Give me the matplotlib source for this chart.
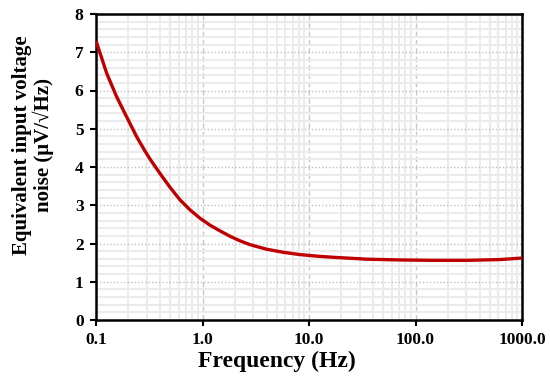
import matplotlib
matplotlib.use("Agg")
import matplotlib.pyplot as plt
from matplotlib.ticker import MultipleLocator, LogLocator, NullFormatter

freq = [0.1, 0.126, 0.156, 0.194, 0.241, 0.288, 0.321, 0.399, 0.495, 0.615, 0.763,
        0.948, 1.175, 1.46, 1.81, 2.25, 2.79, 4.0, 5.74, 8.23, 11.8, 16.8, 34.8,
        71.5, 146, 302, 621, 1000]
noise = [7.3, 6.45, 5.84, 5.31, 4.79, 4.42, 4.21, 3.83, 3.47, 3.14, 2.88,
         2.66, 2.48, 2.33, 2.19, 2.07, 1.97, 1.85, 1.77, 1.71, 1.67, 1.64, 1.59,
         1.57, 1.56, 1.56, 1.58, 1.62]
xticks = [0.1, 1, 10, 100, 1000]
xticklabels = ["0.1", "1.0", "10.0", "100.0", "1000.0"]
yticks = [0, 1, 2, 3, 4, 5, 6, 7, 8]

plt.rcParams['font.family'] = ['Liberation Serif', 'DejaVu Serif']
plt.rcParams['font.weight'] = 'bold'

fig = plt.figure(figsize=(5.5, 3.81), dpi=100)
ax = fig.add_axes([96/550, 1-320/381, (522-96)/550, (320-14)/381])

ax.set_xscale('log')
ax.set_xlim(0.1, 1000)
ax.set_ylim(0, 8)

ax.xaxis.set_minor_locator(LogLocator(base=10, subs=range(2, 10)))
ax.xaxis.set_minor_formatter(NullFormatter())
ax.yaxis.set_minor_locator(MultipleLocator(0.2))

ax.grid(which='minor', axis='both', color='#ebebeb', linewidth=1.5, linestyle='-', zorder=0)
ax.grid(which='major', axis='x', color='#c8c8c8', linewidth=1.0, linestyle=(0, (4, 2)), zorder=0.5)
ax.grid(which='major', axis='y', color='#c0c0c0', linewidth=1.0, linestyle=(0, (1, 1.5)), zorder=0.5)
ax.set_axisbelow(True)

ax.plot(freq, noise, color='#c00000', linewidth=2.4, zorder=3,
        solid_capstyle='butt', solid_joinstyle='round')

ax.set_xticks(xticks)
ax.set_xticklabels(xticklabels)
ax.set_yticks(yticks)
ax.tick_params(which='major', direction='out', length=4, width=1.5, labelsize=12.5, pad=5)
ax.tick_params(which='minor', length=0)
for lab in ax.get_xticklabels() + ax.get_yticklabels():
    lab.set_fontweight('bold')

for s in ax.spines.values():
    s.set_linewidth(1.8)
    s.set_color('black')

fig.text(277/550, 1-361/381, 'Frequency (Hz)', fontsize=17, fontweight='bold',
         ha='center', va='center')
fig.text(33/550, 1-145/381, 'Equivalent input voltage\nnoise (μV/√Hz)', fontsize=15,
         fontweight='bold', ha='center', va='center', rotation=90, linespacing=1.05,
         multialignment='center')

fig.savefig('out.png', dpi=100)
